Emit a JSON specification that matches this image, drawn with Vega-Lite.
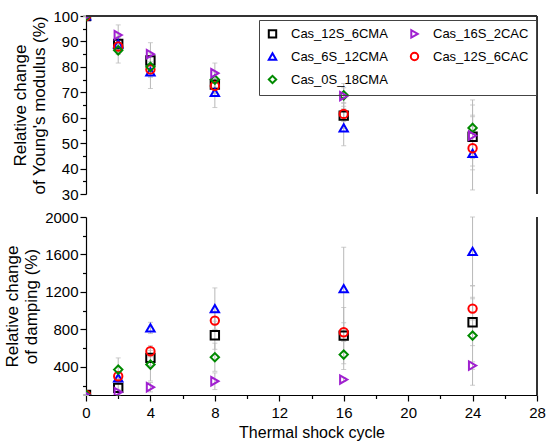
{
  "$schema": "https://vega.github.io/schema/vega-lite/v6.json",
  "padding": {"left": 3, "top": 9, "right": 5, "bottom": 2},
  "background": "white",
  "config": {
    "font": "Liberation Sans",
    "view": {"stroke": null},
    "axis": {"domainColor": "#000", "tickColor": "#000", "labelColor": "#000", "titleColor": "#000", "labelFontSize": 15, "titleFontSize": 17, "titleLineHeight": 19, "titleFontWeight": "normal", "grid": false, "domainWidth": 1.2, "tickWidth": 1.2, "labelFont": "Liberation Sans", "titleFont": "Liberation Sans", "labelOverlap": false, "labelFlush": false},
    "legend": {"labelFont": "Liberation Sans"}
  },
  "datasets": {
    "pts": [
      {"panel": "E", "series": "Cas_12S_6CMA", "cycle": 0, "value": 100, "lo": 100, "hi": 100},
      {"panel": "E", "series": "Cas_6S_12CMA", "cycle": 0, "value": 100, "lo": 100, "hi": 100},
      {"panel": "E", "series": "Cas_12S_6CAC", "cycle": 0, "value": 100, "lo": 100, "hi": 100},
      {"panel": "E", "series": "Cas_0S_18CMA", "cycle": 0, "value": 100, "lo": 100, "hi": 100},
      {"panel": "E", "series": "Cas_16S_2CAC", "cycle": 0, "value": 100, "lo": 100, "hi": 100},
      {"panel": "E", "series": "Cas_12S_6CMA", "cycle": 2, "value": 89, "lo": 86, "hi": 92},
      {"panel": "E", "series": "Cas_6S_12CMA", "cycle": 2, "value": 89, "lo": 85, "hi": 93},
      {"panel": "E", "series": "Cas_12S_6CAC", "cycle": 2, "value": 88, "lo": 85, "hi": 91},
      {"panel": "E", "series": "Cas_0S_18CMA", "cycle": 2, "value": 86.5, "lo": 81.5, "hi": 91.5},
      {"panel": "E", "series": "Cas_16S_2CAC", "cycle": 2, "value": 92.5, "lo": 88.5, "hi": 96.5},
      {"panel": "E", "series": "Cas_12S_6CMA", "cycle": 4, "value": 82.5, "lo": 79.5, "hi": 85.5},
      {"panel": "E", "series": "Cas_6S_12CMA", "cycle": 4, "value": 78, "lo": 71.5, "hi": 84.5},
      {"panel": "E", "series": "Cas_12S_6CAC", "cycle": 4, "value": 79, "lo": 76, "hi": 82},
      {"panel": "E", "series": "Cas_0S_18CMA", "cycle": 4, "value": 80, "lo": 76, "hi": 84},
      {"panel": "E", "series": "Cas_16S_2CAC", "cycle": 4, "value": 85, "lo": 80.5, "hi": 89.5},
      {"panel": "E", "series": "Cas_12S_6CMA", "cycle": 8, "value": 73, "lo": 70, "hi": 76},
      {"panel": "E", "series": "Cas_6S_12CMA", "cycle": 8, "value": 70, "lo": 64, "hi": 76},
      {"panel": "E", "series": "Cas_12S_6CAC", "cycle": 8, "value": 72.5, "lo": 69.5, "hi": 75.5},
      {"panel": "E", "series": "Cas_0S_18CMA", "cycle": 8, "value": 75, "lo": 72, "hi": 78},
      {"panel": "E", "series": "Cas_16S_2CAC", "cycle": 8, "value": 77.5, "lo": 73.5, "hi": 81.5},
      {"panel": "E", "series": "Cas_12S_6CMA", "cycle": 16, "value": 60.8, "lo": 55.8, "hi": 65.8},
      {"panel": "E", "series": "Cas_6S_12CMA", "cycle": 16, "value": 56, "lo": 49, "hi": 63},
      {"panel": "E", "series": "Cas_12S_6CAC", "cycle": 16, "value": 61.5, "lo": 58.5, "hi": 64.5},
      {"panel": "E", "series": "Cas_0S_18CMA", "cycle": 16, "value": 68.8, "lo": 65.8, "hi": 71.8},
      {"panel": "E", "series": "Cas_16S_2CAC", "cycle": 16, "value": 68.5, "lo": 63.5, "hi": 73.5},
      {"panel": "E", "series": "Cas_12S_6CMA", "cycle": 24, "value": 52.5, "lo": 44, "hi": 61},
      {"panel": "E", "series": "Cas_6S_12CMA", "cycle": 24, "value": 46, "lo": 31.6, "hi": 60.4},
      {"panel": "E", "series": "Cas_12S_6CAC", "cycle": 24, "value": 48, "lo": 39.5, "hi": 56.5},
      {"panel": "E", "series": "Cas_0S_18CMA", "cycle": 24, "value": 56, "lo": 45, "hi": 67},
      {"panel": "E", "series": "Cas_16S_2CAC", "cycle": 24, "value": 53, "lo": 41, "hi": 65},
      {"panel": "D", "series": "Cas_12S_6CMA", "cycle": 0, "value": 100, "lo": 100, "hi": 100},
      {"panel": "D", "series": "Cas_6S_12CMA", "cycle": 0, "value": 100, "lo": 100, "hi": 100},
      {"panel": "D", "series": "Cas_12S_6CAC", "cycle": 0, "value": 100, "lo": 100, "hi": 100},
      {"panel": "D", "series": "Cas_0S_18CMA", "cycle": 0, "value": 100, "lo": 100, "hi": 100},
      {"panel": "D", "series": "Cas_16S_2CAC", "cycle": 0, "value": 100, "lo": 100, "hi": 100},
      {"panel": "D", "series": "Cas_12S_6CMA", "cycle": 2, "value": 176, "lo": 130, "hi": 222},
      {"panel": "D", "series": "Cas_6S_12CMA", "cycle": 2, "value": 283, "lo": 230, "hi": 336},
      {"panel": "D", "series": "Cas_12S_6CAC", "cycle": 2, "value": 300, "lo": 250, "hi": 350},
      {"panel": "D", "series": "Cas_0S_18CMA", "cycle": 2, "value": 371, "lo": 246, "hi": 496},
      {"panel": "D", "series": "Cas_16S_2CAC", "cycle": 2, "value": 130, "lo": 100, "hi": 160},
      {"panel": "D", "series": "Cas_12S_6CMA", "cycle": 4, "value": 496, "lo": 416, "hi": 576},
      {"panel": "D", "series": "Cas_6S_12CMA", "cycle": 4, "value": 816, "lo": 756, "hi": 876},
      {"panel": "D", "series": "Cas_12S_6CAC", "cycle": 4, "value": 567, "lo": 507, "hi": 627},
      {"panel": "D", "series": "Cas_0S_18CMA", "cycle": 4, "value": 425, "lo": 250, "hi": 600},
      {"panel": "D", "series": "Cas_16S_2CAC", "cycle": 4, "value": 183, "lo": 133, "hi": 233},
      {"panel": "D", "series": "Cas_12S_6CMA", "cycle": 8, "value": 738, "lo": 588, "hi": 888},
      {"panel": "D", "series": "Cas_6S_12CMA", "cycle": 8, "value": 1022, "lo": 801, "hi": 1243},
      {"panel": "D", "series": "Cas_12S_6CAC", "cycle": 8, "value": 894, "lo": 794, "hi": 994},
      {"panel": "D", "series": "Cas_0S_18CMA", "cycle": 8, "value": 503, "lo": 353, "hi": 653},
      {"panel": "D", "series": "Cas_16S_2CAC", "cycle": 8, "value": 247, "lo": 158, "hi": 336},
      {"panel": "D", "series": "Cas_12S_6CMA", "cycle": 16, "value": 734, "lo": 434, "hi": 1034},
      {"panel": "D", "series": "Cas_6S_12CMA", "cycle": 16, "value": 1235, "lo": 793, "hi": 1677},
      {"panel": "D", "series": "Cas_12S_6CAC", "cycle": 16, "value": 770, "lo": 670, "hi": 870},
      {"panel": "D", "series": "Cas_0S_18CMA", "cycle": 16, "value": 531, "lo": 371, "hi": 691},
      {"panel": "D", "series": "Cas_16S_2CAC", "cycle": 16, "value": 265, "lo": 245, "hi": 285},
      {"panel": "D", "series": "Cas_12S_6CMA", "cycle": 24, "value": 877, "lo": 627, "hi": 1127},
      {"panel": "D", "series": "Cas_6S_12CMA", "cycle": 24, "value": 1634, "lo": 1268, "hi": 2000},
      {"panel": "D", "series": "Cas_12S_6CAC", "cycle": 24, "value": 1022, "lo": 901, "hi": 1143},
      {"panel": "D", "series": "Cas_0S_18CMA", "cycle": 24, "value": 734, "lo": 204, "hi": 1264},
      {"panel": "D", "series": "Cas_16S_2CAC", "cycle": 24, "value": 414, "lo": 374, "hi": 454}
    ]
  },
  "spacing": 8,
  "resolve": {"legend": {"color": "independent", "shape": "independent"}},
  "vconcat": [
    {
      "width": 451,
      "height": 178,
      "data": {"name": "pts"},
      "transform": [{"filter": "datum.panel === 'E'"}],
      "layer": [
        {
          "mark": {"type": "errorbar", "ticks": true, "color": "#b8b8b8", "thickness": 1},
          "encoding": {
            "x": {"field": "cycle", "type": "quantitative", "scale": {"domain": [0, 28], "nice": false}, "axis": null},
            "y": {"field": "lo", "type": "quantitative", "scale": {"domain": [30, 100], "nice": false},
              "axis": {"title": ["Relative change", "of Young's modulus (%)"], "values": [30,35,40,45,50,55,60,65,70,75,80,85,90,95,100], "labelExpr": "datum.value % 10 === 0 ? datum.label : ''", "tickSize": {"condition": {"test": "datum.value % 10 === 0", "value": 6}, "value": 3.5}, "titlePadding": 4, "labelOverlap": false, "labelFlush": false}},
            "y2": {"field": "hi"}
          }
        },
        {
          "mark": {"type": "point", "filled": false, "strokeWidth": 2, "size": 70, "clip": true, "opacity": 1},
          "encoding": {
            "x": {"field": "cycle", "type": "quantitative", "scale": {"domain": [0, 28], "nice": false}, "axis": null},
            "y": {"field": "value", "type": "quantitative", "scale": {"domain": [30, 100], "nice": false},
              "axis": {"title": ["Relative change", "of Young's modulus (%)"], "values": [30,35,40,45,50,55,60,65,70,75,80,85,90,95,100], "labelExpr": "datum.value % 10 === 0 ? datum.label : ''", "tickSize": {"condition": {"test": "datum.value % 10 === 0", "value": 6}, "value": 3.5}, "titlePadding": 4, "labelOverlap": false, "labelFlush": false}},
            "color": {"field": "series", "type": "nominal",
              "scale": {"domain": ["Cas_12S_6CMA", "Cas_6S_12CMA", "Cas_0S_18CMA", "Cas_16S_2CAC", "Cas_12S_6CAC"], "range": ["#000000", "#0000ff", "#008a00", "#a020d0", "#ff0000"]},
              "legend": {"title": null, "orient": "none", "legendX": 173, "legendY": 4, "columns": 2, "strokeColor": "#444", "padding": 7, "labelFontSize": 13, "symbolSize": 55, "symbolStrokeWidth": 2, "rowPadding": 6, "columnPadding": 18, "labelLimit": 300, "labelColor": "#000", "labelOffset": 12}},
            "shape": {"field": "series", "type": "nominal",
              "scale": {"domain": ["Cas_12S_6CMA", "Cas_6S_12CMA", "Cas_0S_18CMA", "Cas_16S_2CAC", "Cas_12S_6CAC"], "range": ["square", "triangle-up", "diamond", "triangle-right", "circle"]},
              "legend": {"title": null, "orient": "none", "legendX": 173, "legendY": 4, "columns": 2, "strokeColor": "#444", "padding": 7, "labelFontSize": 13, "symbolSize": 55, "symbolStrokeWidth": 2, "rowPadding": 6, "columnPadding": 18, "labelLimit": 300, "labelColor": "#000", "labelOffset": 12}}
          }
        },
        {
          "mark": {"type": "rule", "color": "#333", "strokeWidth": 1.5},
          "encoding": {"x": {"datum": 28, "type": "quantitative", "scale": {"domain": [0, 28], "nice": false}, "axis": null}}
        },
        {
          "mark": {"type": "rule", "color": "#333", "strokeWidth": 1.5},
          "encoding": {"y": {"datum": 100, "type": "quantitative", "axis": {"title": ["Relative change", "of Young's modulus (%)"], "values": [30,35,40,45,50,55,60,65,70,75,80,85,90,95,100], "labelExpr": "datum.value % 10 === 0 ? datum.label : ''", "tickSize": {"condition": {"test": "datum.value % 10 === 0", "value": 6}, "value": 3.5}, "titlePadding": 4, "labelOverlap": false, "labelFlush": false}}}
        }
      ]
    },
    {
      "width": 451,
      "height": 178,
      "data": {"name": "pts"},
      "transform": [{"filter": "datum.panel === 'D'"}],
      "encoding": {
        "x": {"field": "cycle", "type": "quantitative", "scale": {"domain": [0, 28], "nice": false},
          "axis": {"title": "Thermal shock cycle", "values": [0,2,4,6,8,10,12,14,16,18,20,22,24,26,28], "labelExpr": "datum.value % 4 === 0 ? datum.label : ''", "tickSize": {"condition": {"test": "datum.value % 4 === 0", "value": 6}, "value": 3.5}, "titlePadding": 4, "labelPadding": 4, "titleFontSize": 16, "labelOverlap": false, "labelFlush": false}}
      },
      "layer": [
        {
          "mark": {"type": "errorbar", "ticks": true, "color": "#b8b8b8", "thickness": 1},
          "encoding": {
            "y": {"field": "lo", "type": "quantitative", "scale": {"domain": [100, 2000], "nice": false},
              "axis": {"title": ["Relative change", "of damping (%)"], "values": [200,400,600,800,1000,1200,1400,1600,1800,2000], "labelExpr": "datum.value % 400 === 0 ? datum.label : ''", "tickSize": {"condition": {"test": "datum.value % 400 === 0", "value": 6}, "value": 3.5}, "titlePadding": 4, "format": "d", "labelOverlap": false, "labelFlush": false}},
            "y2": {"field": "hi"}
          }
        },
        {
          "mark": {"type": "point", "filled": false, "strokeWidth": 2, "size": 70, "clip": true, "opacity": 1},
          "encoding": {
            "y": {"field": "value", "type": "quantitative", "scale": {"domain": [100, 2000], "nice": false},
              "axis": {"title": ["Relative change", "of damping (%)"], "values": [200,400,600,800,1000,1200,1400,1600,1800,2000], "labelExpr": "datum.value % 400 === 0 ? datum.label : ''", "tickSize": {"condition": {"test": "datum.value % 400 === 0", "value": 6}, "value": 3.5}, "titlePadding": 4, "format": "d", "labelOverlap": false, "labelFlush": false}},
            "color": {"field": "series", "type": "nominal",
              "scale": {"domain": ["Cas_12S_6CMA", "Cas_6S_12CMA", "Cas_0S_18CMA", "Cas_16S_2CAC", "Cas_12S_6CAC"], "range": ["#000000", "#0000ff", "#008a00", "#a020d0", "#ff0000"]},
              "legend": null},
            "shape": {"field": "series", "type": "nominal",
              "scale": {"domain": ["Cas_12S_6CMA", "Cas_6S_12CMA", "Cas_0S_18CMA", "Cas_16S_2CAC", "Cas_12S_6CAC"], "range": ["square", "triangle-up", "diamond", "triangle-right", "circle"]},
              "legend": null}
          }
        },
        {
          "mark": {"type": "rule", "color": "#333", "strokeWidth": 1.5},
          "encoding": {"x": {"datum": 28, "type": "quantitative"}}
        }
      ]
    }
  ]
}
